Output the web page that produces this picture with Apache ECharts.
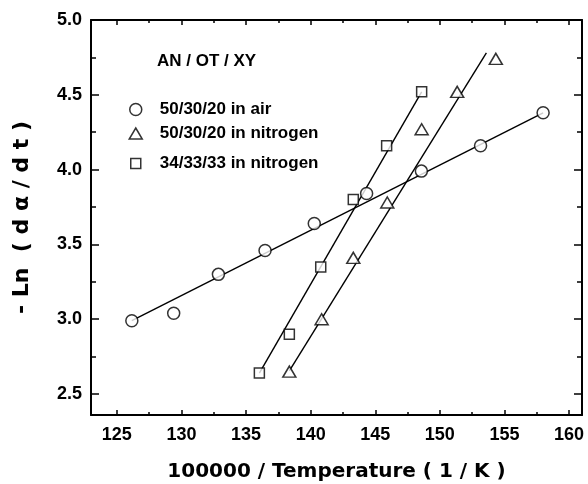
<!DOCTYPE html>
<html><head><meta charset="utf-8">
<script src="https://cdn.jsdelivr.net/npm/echarts@6/dist/echarts.min.js"></script>
<style>html,body{margin:0;padding:0;background:#fff}#c{width:588px;height:484px}</style>
</head><body><div id="c"></div>
<script>
// ---- data ----
const xRange = [123, 161];
const yRange = [2.36, 5.0];
const xTicks = [125, 130, 135, 140, 145, 150, 155, 160];
const xMinorTicks = [127.5, 132.5, 137.5, 142.5, 147.5, 152.5, 157.5];
const yTicks = [2.5, 3.0, 3.5, 4.0, 4.5, 5.0];
const yMinorTicks = [2.75, 3.25, 3.75, 4.25, 4.75];
const legendHeader = 'AN / OT / XY';
const seriesNames = ['50/30/20 in air', '50/30/20 in nitrogen', '34/33/33 in nitrogen'];
const xTitle = '100000 / Temperature ( 1 / K )';
const yTitle = '- Ln  ( d α / d t )';

const airX = [126.16, 129.40, 132.86, 136.47, 140.28, 144.33, 148.57, 153.15, 157.99];
const airY = [2.99, 3.04, 3.30, 3.46, 3.64, 3.84, 3.99, 4.16, 4.38];
const n1X = [138.35, 140.85, 143.30, 145.93, 148.59, 151.34, 154.33];
const n1Y = [2.65, 3.00, 3.41, 3.78, 4.27, 4.52, 4.74];
const n2X = [136.03, 138.35, 140.78, 143.30, 145.88, 148.59];
const n2Y = [2.64, 2.90, 3.35, 3.80, 4.16, 4.52];

// fitted lines (end points)
const airFitX = [126.16, 157.99];
const airFitY = [2.99, 4.38];
const n1FitX = [138.35, 153.60];
const n1FitY = [2.655, 4.78];
const n2FitX = [136.03, 148.59];
const n2FitY = [2.64, 4.52];

// ---- chart ----
const zip = (xs, ys) => xs.map((x, i) => [x, ys[i]]);
const tickFont = {fontFamily: 'Liberation Sans', fontWeight: 'bold', fontSize: 18, color: '#000'};
const titleFont = {fontFamily: 'DejaVu Sans', fontWeight: 'bold', fontSize: 20, color: '#000'};
const legFont = {fontFamily: 'Liberation Sans', fontWeight: 'bold', fontSize: 17, color: '#000'};
const axLine = {show: true, lineStyle: {color: '#000', width: 2}};
const noLine = {show: false};
const mk = (pos, min, max, ticks, len, opts) => Object.assign({
  type: 'value', position: pos, min: min, max: max, splitLine: {show: false},
  axisLine: noLine, axisLabel: {show: false},
  axisTick: {show: true, inside: true, length: len, customValues: ticks, lineStyle: {color: '#000', width: 1.5}}
}, opts || {});

const mark = {color: '#fff', borderColor: '#000', borderWidth: 1.5};
const lineSt = {color: '#000', width: 1.4};
const symbols = ['circle', 'triangle', 'rect'];
const legendIconSizes = [[12, 12], [13, 11], [10, 10]];

const option = {
  animation: false,
  backgroundColor: '#fff',
  grid: {left: 91, top: 20, right: 6, bottom: 69, containLabel: false, outerBoundsMode: 'none'},
  title: {text: legendHeader, left: 152, top: 48, textStyle: legFont},
  legend: seriesNames.map((n, i) => ({
    data: [{name: n, icon: symbols[i]}], padding: 0,
    left: 135 - legendIconSizes[i][0] / 2, top: [101, 125, 155][i],
    itemWidth: legendIconSizes[i][0], itemHeight: legendIconSizes[i][1],
    selectedMode: false,
    textStyle: Object.assign({padding: [0, 0, 0, 19 - legendIconSizes[i][0] / 2]}, legFont),
    itemStyle: {borderWidth: 1.5, borderColor: '#000', color: '#fff'}
  })),
  xAxis: [
    mk('bottom', xRange[0], xRange[1], xTicks, 5, {
      axisLine: axLine,
      axisLabel: Object.assign({show: true, customValues: xTicks, margin: 11}, tickFont),
      name: xTitle, nameLocation: 'middle', nameGap: 47, nameTextStyle: titleFont
    }),
    mk('bottom', xRange[0], xRange[1], xMinorTicks, 3),
    mk('top', xRange[0], xRange[1], xTicks, 5, {axisLine: axLine}),
    mk('top', xRange[0], xRange[1], xMinorTicks, 3)
  ],
  yAxis: [
    mk('left', yRange[0], yRange[1], yTicks, 8, {
      axisLine: axLine,
      axisLabel: Object.assign({show: true, customValues: yTicks, margin: 9, formatter: v => v.toFixed(1)}, tickFont),
      name: yTitle, nameLocation: 'middle', nameRotate: 90, nameGap: 58,
      nameTextStyle: Object.assign({}, titleFont, {fontSize: 22})
    }),
    mk('left', yRange[0], yRange[1], yMinorTicks, 5),
    mk('right', yRange[0], yRange[1], yTicks, 8, {axisLine: axLine}),
    mk('right', yRange[0], yRange[1], yMinorTicks, 5)
  ],
  series: [
    {type: 'line', data: zip(airFitX, airFitY), symbol: 'none', lineStyle: lineSt, z: 1, silent: true},
    {type: 'line', data: zip(n1FitX, n1FitY), symbol: 'none', lineStyle: lineSt, z: 1, silent: true},
    {type: 'line', data: zip(n2FitX, n2FitY), symbol: 'none', lineStyle: lineSt, z: 1, silent: true},
    {name: seriesNames[0], type: 'scatter', data: zip(airX, airY), symbol: symbols[0], symbolSize: 12, itemStyle: mark, z: 3},
    {name: seriesNames[1], type: 'scatter', data: zip(n1X, n1Y), symbol: symbols[1], symbolSize: [13, 11], itemStyle: mark, z: 3},
    {name: seriesNames[2], type: 'scatter', data: zip(n2X, n2Y), symbol: symbols[2], symbolSize: 10, itemStyle: mark, z: 3}
  ]
};
const chart = echarts.init(document.getElementById('c'), null, {renderer: 'canvas'});
chart.setOption(option);
</script>
</body></html>
